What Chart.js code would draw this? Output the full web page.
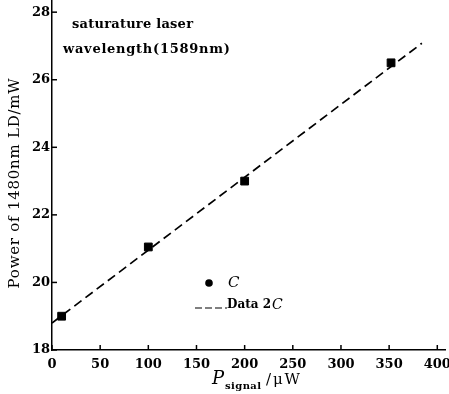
<!DOCTYPE html>
<html>
<head>
<meta charset="utf-8">
<script src="https://cdn.jsdelivr.net/npm/chart.js@4"></script>
<style>
  html, body { margin: 0; padding: 0; background: #fff; }
  #wrap { width: 449px; height: 394px; }
</style>
</head>
<body>
<div id="wrap"><canvas id="powerChart"></canvas></div>
<script>
// values
const signalPower = [10, 100, 200, 352];       // P_signal, uW
const pumpPower = [19.0, 21.05, 23.0, 26.5];   // 1480nm LD power, mW
const fitX = [0, 384];
const fitY = [18.8, 27.08];
const xTicks = [0, 50, 100, 150, 200, 250, 300, 350, 400];
const yTicks = [18, 20, 22, 24, 26, 28];

const serif = '"DejaVu Serif", "Liberation Serif", serif';

// draw text stretched to a given width (the scan's typeface is wide)
function wideText(c, text, x, y, width) {
  c.letterSpacing = '0px';
  const w = c.measureText(text).width;
  const sp = text.length > 1 ? (width - w) / (text.length - 1) : 0;
  c.letterSpacing = sp.toFixed(2) + 'px';
  c.fillText(text, x, y);
  c.letterSpacing = '0px';
}

// inward tick marks, notes, legend and axis titles
const extras = {
  id: 'extras',
  afterDraw(chart) {
    const c = chart.ctx;
    const xs = chart.scales.x, ys = chart.scales.y;
    const area = chart.chartArea;
    c.save();
    c.strokeStyle = '#000';
    c.lineWidth = 1.5;
    xTicks.forEach(v => {
      const px = xs.getPixelForValue(v);
      c.beginPath(); c.moveTo(px, area.bottom); c.lineTo(px, area.bottom - 5); c.stroke();
    });
    yTicks.forEach(v => {
      const py = ys.getPixelForValue(v);
      c.beginPath(); c.moveTo(area.left, py); c.lineTo(area.left + 5, py); c.stroke();
    });

    c.fillStyle = '#000';
    c.textBaseline = 'middle';
    c.font = 'bold 13px ' + serif;
    wideText(c, 'saturature laser', 72, 25, 121);
    wideText(c, 'wavelength(1589nm)', 63, 50, 167);

    // legend
    c.beginPath(); c.arc(209, 283, 3.8, 0, Math.PI * 2); c.fill();
    c.font = 'italic 15px ' + serif;
    c.fillText('C', 228, 283);
    c.setLineDash([7, 3]);
    c.lineWidth = 1.2;
    c.beginPath(); c.moveTo(195, 308); c.lineTo(227, 308); c.stroke();
    c.setLineDash([]);
    c.font = 'bold 12px ' + serif;
    wideText(c, 'Data 2', 227, 305, 44);
    c.font = 'italic 14px ' + serif;
    c.fillText('C', 272, 305);

    // y title
    c.save();
    c.translate(15, 183);
    c.rotate(-Math.PI / 2);
    c.textAlign = 'center';
    c.font = '15px ' + serif;
    wideText(c, 'Power of 1480nm LD/mW', 0, 0, 210);
    c.restore();

    // x title
    c.textBaseline = 'alphabetic';
    c.font = 'italic 18px ' + serif;
    c.fillText('P', 212, 384);
    c.font = 'bold 10px ' + serif;
    wideText(c, 'signal', 225, 389, 36);
    c.font = '15px ' + serif;
    wideText(c, '/\u03bcW', 266, 384, 34);
    c.restore();
  }
};

new Chart(document.getElementById('powerChart'), {
  type: 'scatter',
  data: {
    datasets: [
      {
        label: 'C',
        data: signalPower.map((v, i) => ({ x: v, y: pumpPower[i] })),
        pointStyle: 'rect',
        pointRadius: 5.5,
        backgroundColor: '#000',
        borderColor: '#000',
        order: 1
      },
      {
        label: 'Data 2C',
        type: 'line',
        data: fitX.map((v, i) => ({ x: v, y: fitY[i] })),
        borderColor: '#000',
        borderWidth: 1.7,
        borderDash: [9, 5],
        pointRadius: 0,
        fill: false,
        order: 2
      }
    ]
  },
  options: {
    responsive: true,
    maintainAspectRatio: false,
    animation: false,
    layout: { autoPadding: false, padding: { top: 0, right: 4, left: 0, bottom: 0 } },
    plugins: {
      legend: { display: false },
      tooltip: { enabled: false }
    },
    scales: {
      x: {
        type: 'linear',
        min: 0,
        max: 408,
        afterBuildTicks: s => { s.ticks = xTicks.map(v => ({ value: v })); },
        afterFit: s => { s.height = 44; s.paddingLeft = 0; s.paddingRight = 0; },
        grid: { display: false, drawTicks: false },
        border: { display: true, color: '#000', width: 1.5 },
        ticks: {
          color: '#000',
          padding: 7,
          maxRotation: 0,
          font: { family: serif, size: 13, weight: 'bold' }
        }
      },
      y: {
        min: 18,
        max: 28.36,
        afterBuildTicks: s => { s.ticks = yTicks.map(v => ({ value: v })); },
        afterFit: s => { s.width = 52; s.paddingTop = 0; s.paddingBottom = 0; },
        grid: { display: false, drawTicks: false },
        border: { display: true, color: '#000', width: 1.5 },
        ticks: {
          color: '#000',
          padding: 2,
          font: { family: serif, size: 13, weight: 'bold' }
        }
      }
    }
  },
  plugins: [extras]
});
</script>
</body>
</html>
